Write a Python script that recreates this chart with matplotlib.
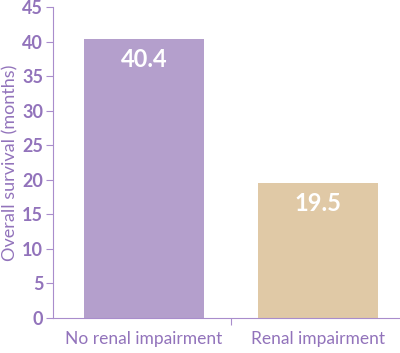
import matplotlib.pyplot as plt

categories = ["No renal impairment", "Renal impairment"]
survival = [40.4, 19.5]
labels = ["40.4", "19.5"]
yticks = [0, 5, 10, 15, 20, 25, 30, 35, 40, 45]

text_color = "#9273bb"
axis_color = "#a98dcc"
bar_colors = ["#b49fcc", "#e0c9a6"]

plt.rcParams['font.family'] = ['Lato', 'DejaVu Sans']

fig = plt.figure(figsize=(4.0, 3.53), dpi=100)
ax = fig.add_axes([0.1325, 0.099, 0.8675, 0.881])

x = range(len(categories))
bars = ax.bar(x, survival, width=0.69, color=bar_colors)

for b, lab in zip(bars, labels):
    ax.text(b.get_x() + b.get_width() / 2, b.get_height() - 1.3, lab,
            ha='center', va='top', color='white', fontsize=17,
            fontweight='bold')

ax.set_xlim(-0.523, 1.471)
ax.set_ylim(0, 45)
ax.set_yticks(yticks)
ax.set_yticklabels([str(t) for t in yticks])
ax.set_xticks([0.5])
ax.set_xticklabels([""])
ax.set_xticks([0, 1], minor=True)
ax.set_xticklabels(categories, minor=True)
ax.tick_params(axis='x', which='minor', length=0, pad=9, labelsize=12.5,
               labelcolor=text_color)
ax.tick_params(axis='x', which='major', length=5, color=axis_color)
ax.tick_params(axis='y', length=5, color=axis_color, labelsize=13,
               labelcolor=text_color, pad=2)
for t in ax.get_yticklabels():
    t.set_fontweight('bold')

ax.set_ylabel("Overall survival (months)", color=text_color, fontsize=13,
              labelpad=3)

for s in ['top', 'right']:
    ax.spines[s].set_visible(False)
ax.spines['left'].set_color(axis_color)
ax.spines['bottom'].set_color(axis_color)

fig.savefig("out.png", dpi=100)
